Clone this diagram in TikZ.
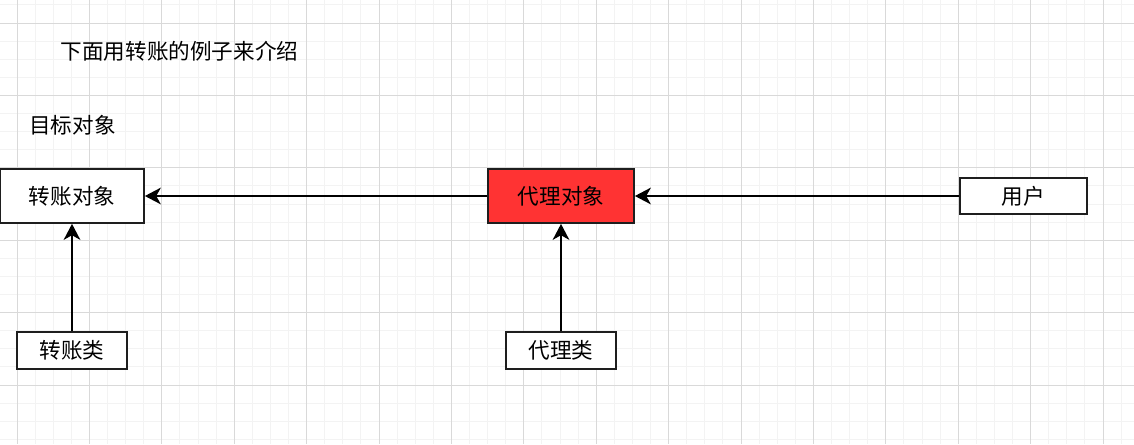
\documentclass[tikz,border=0pt]{standalone}
\usepackage{fontspec}
\newfontfamily\cjk{Noto Sans CJK SC}
\usetikzlibrary{arrows.meta}
\definecolor{gmajor}{HTML}{D9D9D9}
\definecolor{gminor}{HTML}{F3F3F3}
\definecolor{boxred}{HTML}{FF3333}
\definecolor{bordc}{HTML}{1E1E1E}
\tikzset{
  box/.style={draw=bordc, line width=1.3pt, rectangle, inner sep=0pt, fill=white,
    font=\cjk\fontsize{16.2pt}{19pt}\selectfont, text=black},
  lbl/.style={inner sep=0pt, font=\cjk\fontsize{16.2pt}{19pt}\selectfont, text=black},
  arr/.style={draw=black, line width=1.4pt, -{Stealth[length=12pt, width=12.5pt, inset=3.5pt]}}
}
\begin{document}
\begin{tikzpicture}[x=0.75pt, y=-0.75pt]
\useasboundingbox (0,0) rectangle (1134,444);
\fill[white] (0,0) rectangle (1134,444);
\begin{scope}
\clip (0,0) rectangle (1134,444);
\foreach \i in {-1,...,63} {
  \draw[gminor, line width=0.75pt] ({17+18.1*\i},0) -- ({17+18.1*\i},444);
}
\foreach \j in {-2,...,25} {
  \draw[gminor, line width=0.75pt] (0,{23+18.1*\j}) -- (1134,{23+18.1*\j});
}
\foreach \i in {0,...,15} {
  \draw[gmajor, line width=0.75pt] ({17+72.4*\i},0) -- ({17+72.4*\i},444);
}
\foreach \j in {0,...,6} {
  \draw[gmajor, line width=0.75pt] (0,{23+72.45*\j}) -- (1134,{23+72.45*\j});
}
\end{scope}

\node[lbl] (title) at (179.5,51) {下面用转账的例子来介绍};
\node[lbl] (goal) at (72.5,125) {目标对象};

\node[box, minimum width=144*0.75pt, minimum height=54*0.75pt] (A) at (72,196) {转账对象};
\node[box, minimum width=110*0.75pt, minimum height=37*0.75pt] (B) at (72,350.5) {转账类};
\node[box, fill=boxred, minimum width=146*0.75pt, minimum height=54*0.75pt] (C) at (561,196) {代理对象};
\node[box, minimum width=110*0.75pt, minimum height=37*0.75pt] (D) at (561,350.5) {代理类};
\node[box, minimum width=127*0.75pt, minimum height=36*0.75pt] (E) at (1023.5,196) {用户};

\draw[arr] (E.west) -- (C.east);
\draw[arr] (C.west) -- (A.east);
\draw[arr] (B.north) -- (A.south);
\draw[arr] (D.north) -- (C.south);
\end{tikzpicture}
\end{document}
